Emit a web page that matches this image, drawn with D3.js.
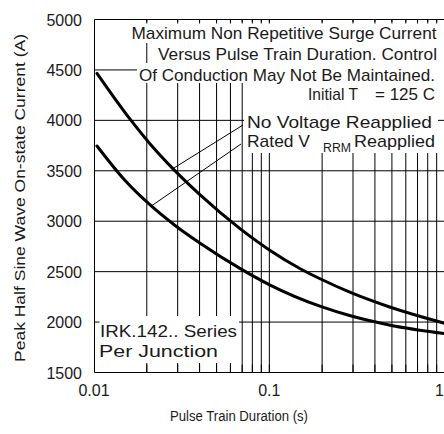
<!DOCTYPE html>
<html><head><meta charset="utf-8">
<script src="https://cdn.jsdelivr.net/npm/d3@7"></script>
<style>
html,body{margin:0;padding:0;background:#fff;}
svg{display:block;}
text{font-family:"Liberation Sans",Arial,sans-serif;fill:#1a1a1a;}
</style>
</head><body>
<svg id="chart" width="444" height="434"></svg>
<script>
// ---- data ----
const noVoltageT = [0.0104, 0.0161, 0.0209, 0.029, 0.0403, 0.0683, 0.101, 0.15, 0.196, 0.29, 0.49, 1.0];
const noVoltageI = [4466, 4009, 3766, 3499, 3261, 2924, 2710, 2529, 2427, 2294, 2147, 1988];
const ratedVrrmT = [0.0104, 0.015, 0.0209, 0.029, 0.0403, 0.0683, 0.101, 0.196, 0.29, 0.49, 1.0];
const ratedVrrmI = [3746, 3406, 3161, 2958, 2782, 2530, 2367, 2155, 2062, 1969, 1886];
const xTickValues = [0.01, 0.1, 1];
const xTickLabels = ["0.01", "0.1", "1"];
const yTickValues = [1500, 2000, 2500, 3000, 3500, 4000, 4500, 5000];
const yTickLabels = ["1500", "2000", "2500", "3000", "3500", "4000", "4500", "5000"];
const leaderTargets = [[0.0281, 3520], [0.0212, 3150]];
const xTitle = "Pulse Train Duration (s)";
const yTitle = "Peak Half Sine Wave On-state Current (A)";

// ---- layout ----
const svg = d3.select("#chart");
const L = 94, R = 444.7, T = 19.5, B = 372.5;
const x = d3.scaleLog().domain([0.01, 1]).range([L, R]);
const y = d3.scaleLinear().domain([1500, 5000]).range([B, T]);

const minorX = x.ticks().filter(v => v > 0.0101 && v < 0.99);

// grid
const grid = svg.append("g").attr("stroke", "#000").attr("stroke-width", 1);
grid.selectAll("line.v").data(minorX).join("line")
  .attr("x1", d => x(d)).attr("x2", d => x(d)).attr("y1", T).attr("y2", B);
grid.selectAll("line.h").data(yTickValues.slice(1, -1)).join("line")
  .attr("x1", L).attr("x2", 444).attr("y1", d => y(d)).attr("y2", d => y(d));

// white label backgrounds
const bgs = [
  [129, 22, 444, 43], [155, 43, 444, 63], [137, 63, 444, 83], [244, 83, 444, 101],
  [244, 101, 438, 133], [244, 133, 444, 153], [99.5, 316, 239, 363]
];
svg.append("g").selectAll("rect").data(bgs).join("rect")
  .attr("x", d => d[0]).attr("y", d => d[1]).attr("width", d => d[2] - d[0]).attr("height", d => d[3] - d[1])
  .attr("fill", "#fff");

// annotation texts
const notes = [
  ["Maximum Non Repetitive Surge Current", 131.5, 39, 305, 17],
  ["Versus Pulse Train Duration. Control", 158, 59.5, 279, 17],
  ["Of Conduction May Not Be Maintained.", 139, 80.5, 296, 17],
  ["Initial T", 308, 100, 50, 17],
  ["= 125 C", 375, 100, 60, 17],
  ["No Voltage Reapplied", 247, 128, 185, 17],
  ["Rated V", 247, 147, 63, 17],
  ["Reapplied", 354, 147, 81, 17],
  ["IRK.142.. Series", 100, 337, 137, 17],
  ["Per Junction", 99, 357, 119, 17]
];
svg.append("g").selectAll("text").data(notes).join("text")
  .attr("x", d => d[1]).attr("y", d => d[2]).attr("textLength", d => d[3])
  .attr("lengthAdjust", "spacingAndGlyphs").style("font-size", d => d[4] + "px").text(d => d[0]);
svg.append("text").attr("x", 323).attr("y", 152).attr("textLength", 28).attr("lengthAdjust", "spacingAndGlyphs")
  .style("font-size", "12px").text("RRM");

// border (left, top, bottom) and inward ticks
const ax = svg.append("g").attr("stroke", "#000").attr("stroke-width", 1).attr("fill", "none");
ax.append("path").attr("d", `M444,${T}H${L + 0.5}V${B}H444`);
ax.selectAll("line.b").data(minorX).join("line")
  .attr("x1", d => x(d)).attr("x2", d => x(d)).attr("y1", B).attr("y2", B - 8);
ax.selectAll("line.t").data(minorX).join("line")
  .attr("x1", d => x(d)).attr("x2", d => x(d)).attr("y1", T).attr("y2", T + 4);

// curves
const line = d3.line().x(d => x(d[0])).y(d => y(d[1])).curve(d3.curveMonotoneX);
const series = [d3.zip(noVoltageT, noVoltageI), d3.zip(ratedVrrmT, ratedVrrmI)];
svg.append("g").selectAll("path").data(series).join("path")
  .attr("d", line).attr("fill", "none").attr("stroke", "#000").attr("stroke-width", 3)
  .attr("stroke-linejoin", "round").attr("stroke-linecap", "round");

// leader lines
const leaderStarts = [[243, 125], [241, 144]];
svg.append("g").selectAll("line").data(leaderTargets).join("line")
  .attr("x1", (d, i) => leaderStarts[i][0]).attr("y1", (d, i) => leaderStarts[i][1])
  .attr("x2", d => x(d[0])).attr("y2", d => y(d[1]))
  .attr("stroke", "#000").attr("stroke-width", 1);

// tick labels
svg.append("g").selectAll("text").data(yTickValues).join("text")
  .attr("x", 82).attr("y", d => y(d) + 6).attr("text-anchor", "end")
  .style("font-size", "16px").text((d, i) => yTickLabels[i]);
svg.append("g").selectAll("text").data(xTickValues).join("text")
  .attr("x", d => Math.min(x(d), 444)).attr("y", 396)
  .attr("text-anchor", d => x(d) > 440 ? "end" : "middle")
  .style("font-size", "16px").text((d, i) => xTickLabels[i]);

// axis titles
svg.append("text").attr("x", 170).attr("y", 421).attr("textLength", 138).attr("lengthAdjust", "spacingAndGlyphs")
  .style("font-size", "14px").text(xTitle);
svg.append("text").attr("transform", "translate(25,362) rotate(-90)").attr("textLength", 328)
  .attr("lengthAdjust", "spacingAndGlyphs").style("font-size", "15.5px").text(yTitle);
</script>
</body></html>
